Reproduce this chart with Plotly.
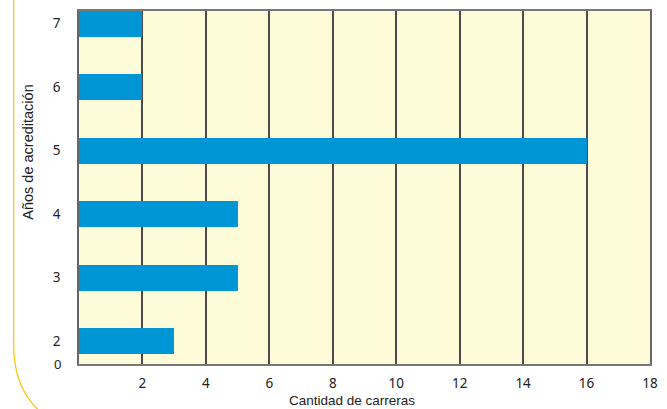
import plotly.graph_objects as go

years = [2, 3, 4, 5, 6, 7]
counts = [3, 5, 5, 16, 2, 2]
x_ticks = [2, 4, 6, 8, 10, 12, 14, 16, 18]
y_ticks = [2, 3, 4, 5, 6, 7]

W, H = 667, 409
L, R, T, B = 79, 11, 9, 45
pw, ph = W - L - R, H - T - B

def px(x):
    return (x - L) / pw

def py(y):
    return (H - B - y) / ph

fig = go.Figure()
fig.add_trace(go.Bar(
    x=counts, y=years, orientation="h", width=0.41,
    marker=dict(color="#0096d6", line=dict(width=0)),
))

# yellow rounded frame on the left
path = "M {:.4f},{:.4f} L {:.4f},{:.4f} Q {:.4f},{:.4f} {:.4f},{:.4f}".format(
    px(13), py(-5), px(13), py(345), px(13), py(395), px(48), py(418))
fig.add_shape(type="path", path=path, xref="paper", yref="paper",
              line=dict(color="#f7c600", width=1.2), layer="below")

fig.add_annotation(text="0", x=px(57), y=0, xref="paper", yref="paper",
                   showarrow=False, xanchor="center", yanchor="middle",
                   font=dict(family="Noto Sans", size=13, color="#222"))
fig.add_annotation(text="Años de acreditación", x=px(28), y=py(151),
                   xref="paper", yref="paper", showarrow=False, textangle=-90,
                   xanchor="center", yanchor="middle",
                   font=dict(family="Liberation Sans", size=14.5, color="#222"))
fig.add_annotation(text="Cantidad de carreras", x=px(355), y=py(401),
                   xref="paper", yref="paper", showarrow=False,
                   xanchor="center", yanchor="middle",
                   font=dict(family="Liberation Sans", size=13.5, color="#222"))

fig.update_layout(
    width=W, height=H,
    margin=dict(l=L, r=R, t=T, b=B, pad=0),
    paper_bgcolor="white", plot_bgcolor="#fefbd8",
    showlegend=False, bargap=0,
)
fig.update_xaxes(
    range=[0, 18], tickvals=x_ticks, ticktext=[str(v) for v in x_ticks],
    showgrid=True, gridcolor="#4a4a4a", gridwidth=1.5,
    showline=True, linecolor="#777", linewidth=1.5, mirror=True,
    ticks="", zeroline=False, ticklabelstandoff=6,
    tickfont=dict(family="Noto Sans", size=13.5, color="#222"),
)
fig.update_yaxes(
    range=[1.64, 7.2], tickvals=y_ticks, ticktext=[str(v) for v in y_ticks],
    showgrid=False, showline=True, linecolor="#666", linewidth=1.5, mirror=True,
    ticks="", zeroline=False, ticklabelstandoff=14,
    tickfont=dict(family="Noto Sans", size=13.5, color="#222"),
)

fig.write_html("out.html", config={"displayModeBar": False},
               post_script="document.body.style.margin='0';document.body.style.overflow='hidden';")
